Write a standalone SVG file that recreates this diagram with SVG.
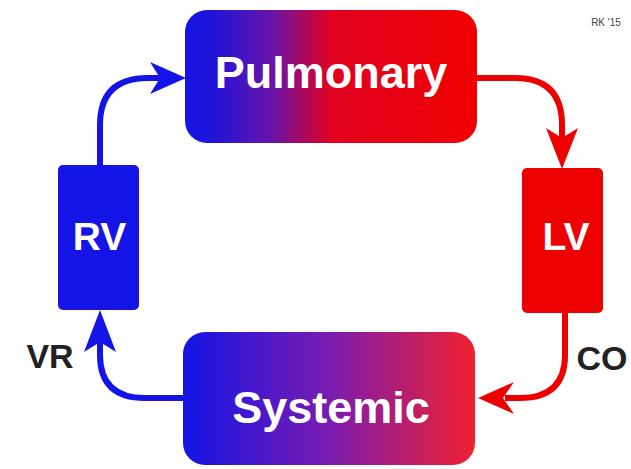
<svg xmlns="http://www.w3.org/2000/svg" width="631" height="469" viewBox="0 0 631 469">
  <defs>
    <linearGradient id="gPul" x1="0" y1="0" x2="1" y2="0">
      <stop offset="0" stop-color="#1414e6"/>
      <stop offset="0.1" stop-color="#2214d8"/>
      <stop offset="0.3" stop-color="#6a14a8"/>
      <stop offset="0.5" stop-color="#e00020"/>
      <stop offset="1" stop-color="#f00000"/>
    </linearGradient>
    <linearGradient id="gSys" x1="0" y1="0" x2="1" y2="0">
      <stop offset="0" stop-color="#1414e6"/>
      <stop offset="0.5" stop-color="#7a1cb0"/>
      <stop offset="1" stop-color="#f02030"/>
    </linearGradient>
    <style>
      .lbl { font-family: "Liberation Sans", Arial, sans-serif; font-weight: bold; fill: #ffffff; text-anchor: middle; }
      .side { font-family: "Liberation Sans", Arial, sans-serif; font-weight: bold; fill: #222222; text-anchor: middle; }
      .blue { stroke: #1414e6; fill: none; stroke-width: 6; }
      .red { stroke: #ec0000; fill: none; stroke-width: 6; }
      .bh { fill: #1414e6; }
      .rh { fill: #ec0000; }
    </style>
  </defs>
  <rect width="631" height="469" fill="#ffffff"/>

  <g id="connectors">
    <path class="blue" d="M100,166 L100,125 Q100,78 148,78 L162,78"/>
    <polygon class="bh" points="186,78 150,62 160,78 150,94"/>
    <path class="red" d="M476,78 L515,78 Q562,78 562,125 L562,140"/>
    <polygon class="rh" points="562,169 546,128 562,138 578,128"/>
    <path class="red" d="M565,311 L565,355 Q565,398 520,398 L505,398"/>
    <polygon class="rh" points="478,398 514,382 503,398 514,414"/>
    <path class="blue" d="M184,398 L145,398 Q100,398 100,355 L100,340"/>
    <polygon class="bh" points="100,310 84,352 100,342 116,352"/>
  </g>

  <g id="pulmonary">
    <rect x="185" y="10" width="292" height="133" rx="22" fill="url(#gPul)"/>
    <text class="lbl" x="331" y="88" font-size="45">Pulmonary</text>
  </g>
  <g id="rv">
    <rect x="58" y="165" width="81" height="145" rx="5" fill="#1414e6"/>
    <text class="lbl" x="99.5" y="250" font-size="39">RV</text>
  </g>
  <g id="lv">
    <rect x="522" y="168" width="81" height="145" rx="5" fill="#ec0000"/>
    <text class="lbl" x="566" y="250" font-size="39">LV</text>
  </g>
  <g id="systemic">
    <rect x="183" y="332" width="292" height="133" rx="22" fill="url(#gSys)"/>
    <text class="lbl" x="331" y="423" font-size="45">Systemic</text>
  </g>

  <text class="side" x="50" y="368" font-size="34">VR</text>
  <text class="side" x="602" y="370" font-size="34">CO</text>
  <text x="606" y="26" font-family="Liberation Sans, Arial, sans-serif" font-size="10" fill="#444444" text-anchor="middle">RK '15</text>
</svg>
